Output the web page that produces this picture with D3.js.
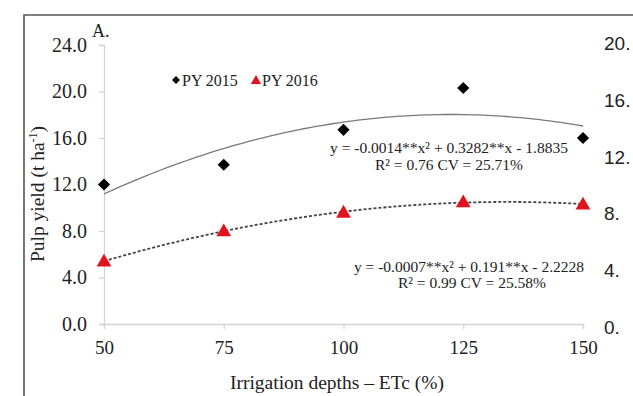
<!DOCTYPE html>
<html>
<head>
<meta charset="utf-8">
<script src="https://cdn.jsdelivr.net/npm/d3@7"></script>
<style>
  html, body { margin: 0; padding: 0; background: #fff; overflow: hidden; }
  text { font-family: "Liberation Serif", "Times New Roman", serif; fill: #222; }
</style>
</head>
<body>
<div id="chart"></div>
<script>
// values
const irrigation = [50, 75, 100, 125, 150];
const py2015 = [12.0, 13.7, 16.7, 20.3, 16.0];
const py2016 = [5.4, 8.0, 9.6, 10.5, 10.3];
const yTicks = [0, 4, 8, 12, 16, 20, 24];
const neighbourTicks = [20, 16, 12, 8, 4, 0]; // axis of the next panel, cut off at the right

const W = 633, H = 396;
const SERIF = '"Liberation Serif", "Times New Roman", serif';

const svg = d3.select("#chart")
    .append("svg")
    .attr("width", W)
    .attr("height", H)
    .attr("font-family", SERIF);

const x = d3.scaleLinear().domain([50, 150]).range([104, 583]);
const y = d3.scaleLinear().domain([0, 24]).range([324, 45]);

// panel frame (top and left border of the figure)
svg.append("path")
    .attr("d", `M24,${H} V15 H${W}`)
    .attr("fill", "none")
    .attr("stroke", "#555")
    .attr("stroke-width", 1.6);

// y axis
const yAxis = svg.append("g")
    .attr("transform", `translate(${x(50)},0)`)
    .call(d3.axisLeft(y).tickValues(yTicks).tickFormat(d3.format(".1f")).tickSize(5).tickPadding(12))
    .attr("font-family", SERIF).attr("font-size", 20);
yAxis.selectAll("text").attr("fill", "#222");

// x axis
const xAxis = svg.append("g")
    .attr("transform", `translate(0,${y(0)})`)
    .call(d3.axisBottom(x).tickValues(irrigation).tickSize(5).tickPadding(12))
    .attr("font-family", SERIF).attr("font-size", 19);
xAxis.selectAll("text").attr("fill", "#222");

svg.selectAll(".domain, .tick line").attr("stroke", "#d4d4d4").attr("stroke-width", 1.3);

// quadratic least-squares trend (as a spreadsheet trendline would give)
function quadFit(xs, ys) {
    let s = [0, 0, 0, 0, 0], t = [0, 0, 0];
    xs.forEach((xv, i) => {
        for (let k = 0; k < 5; k++) s[k] += Math.pow(xv, k);
        for (let k = 0; k < 3; k++) t[k] += ys[i] * Math.pow(xv, k);
    });
    const A = [[s[0], s[1], s[2], t[0]], [s[1], s[2], s[3], t[1]], [s[2], s[3], s[4], t[2]]];
    for (let i = 0; i < 3; i++) {
        for (let j = i + 1; j < 3; j++) {
            const f = A[j][i] / A[i][i];
            for (let k = i; k < 4; k++) A[j][k] -= f * A[i][k];
        }
    }
    const c = [0, 0, 0];
    for (let i = 2; i >= 0; i--) {
        let v = A[i][3];
        for (let k = i + 1; k < 3; k++) v -= A[i][k] * c[k];
        c[i] = v / A[i][i];
    }
    return xv => c[0] + c[1] * xv + c[2] * xv * xv;
}

const line = d3.line().x(d => x(d[0])).y(d => y(d[1]));
const xs = d3.range(50, 150.5, 1);

const fit15 = quadFit(irrigation, py2015);
svg.append("path")
    .attr("d", line(xs.map(v => [v, fit15(v)])))
    .attr("fill", "none")
    .attr("stroke", "#7a7a7a")
    .attr("stroke-width", 1.3);

const fit16 = quadFit(irrigation, py2016);
svg.append("path")
    .attr("d", line(xs.map(v => [v, fit16(v)])))
    .attr("fill", "none")
    .attr("stroke", "#444")
    .attr("stroke-width", 1.8)
    .attr("stroke-dasharray", "3,2");

// points
svg.selectAll(".p15")
    .data(irrigation.map((d, i) => [d, py2015[i]]))
    .enter()
    .append("path")
    .attr("class", "p15")
    .attr("transform", d => `translate(${x(d[0])},${y(d[1])})`)
    .attr("d", d3.symbol().type(d3.symbolDiamond2).size(95))
    .attr("fill", "#000");

svg.selectAll(".p16")
    .data(irrigation.map((d, i) => [d, py2016[i]]))
    .enter()
    .append("path")
    .attr("class", "p16")
    .attr("transform", d => `translate(${x(d[0])},${y(d[1]) + 1})`)
    .attr("d", d3.symbol().type(d3.symbolTriangle).size(95))
    .attr("fill", "#e0141e");

// legend
const legend = svg.append("g").attr("font-size", 16);
legend.append("path")
    .attr("transform", "translate(176,80)")
    .attr("d", d3.symbol().type(d3.symbolDiamond2).size(40))
    .attr("fill", "#000");
legend.append("text").attr("x", 182).attr("y", 86).text("PY 2015");
legend.append("path")
    .attr("transform", "translate(256,81)")
    .attr("d", d3.symbol().type(d3.symbolTriangle).size(45))
    .attr("fill", "#e0141e");
legend.append("text").attr("x", 262).attr("y", 86).text("PY 2016");

// equations
const eq = svg.append("g").attr("font-size", 15.5).attr("text-anchor", "middle");
eq.append("text").attr("x", 449).attr("y", 153).text("y = -0.0014**x² + 0.3282**x - 1.8835");
eq.append("text").attr("x", 449).attr("y", 170).text("R² = 0.76 CV = 25.71%");
eq.append("text").attr("x", 469).attr("y", 272).text("y = -0.0007**x² + 0.191**x - 2.2228");
eq.append("text").attr("x", 472).attr("y", 288).text("R² = 0.99 CV = 25.58%");

// panel letter
svg.append("text").attr("x", 92).attr("y", 37).attr("font-size", 18).text("A.");

// axis titles
svg.append("text")
    .attr("x", 337).attr("y", 389)
    .attr("text-anchor", "middle")
    .attr("font-size", 19.5)
    .text("Irrigation depths – ETc (%)");

const yt = svg.append("text")
    .attr("transform", "translate(44,194) rotate(-90)")
    .attr("text-anchor", "middle")
    .attr("font-size", 19.5);
yt.append("tspan").text("Pulp yield  (t ha");
yt.append("tspan").attr("dy", -7).attr("font-size", 12).text("-1");
yt.append("tspan").attr("dy", 7).text(")");

// the neighbouring panel's axis labels, cut by the page edge
svg.selectAll(".nb")
    .data(neighbourTicks)
    .enter()
    .append("text")
    .attr("class", "nb")
    .attr("x", 604)
    .attr("y", (d, i) => 50 + i * 56.8)
    .style("font-family", '"Liberation Sans", Arial, sans-serif')
    .attr("font-size", 19)
    .text(d => d3.format(".0f")(d) + ".");
</script>
</body>
</html>
